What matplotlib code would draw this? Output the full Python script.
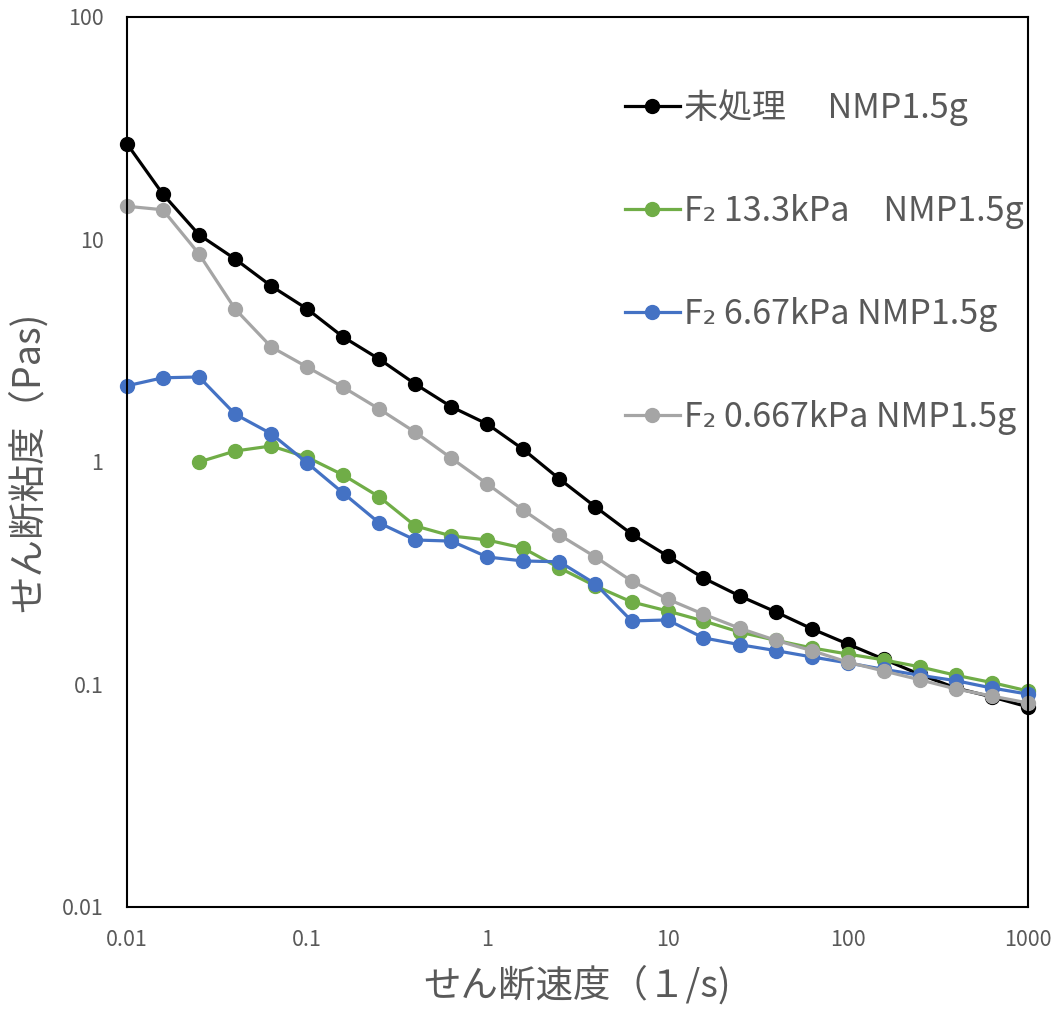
import matplotlib
matplotlib.use('Agg')
import matplotlib.pyplot as plt

plt.rcParams['font.family'] = ['Noto Sans CJK JP', 'DejaVu Sans']

# shear rate (1/s)
shear_rate = [0.01, 0.0158, 0.0251, 0.0398, 0.0631, 0.1, 0.158, 0.251, 0.398, 0.631,
              1, 1.58, 2.51, 3.98, 6.31, 10, 15.8, 25.1, 39.8, 63.1,
              100, 158, 251, 398, 631, 1000]

# viscosity (Pas)
untreated = [26.9, 16.0, 10.5, 8.17, 6.18, 4.87, 3.65, 2.90, 2.24, 1.77,
             1.48, 1.14, 0.839, 0.628, 0.475, 0.378, 0.301, 0.250, 0.212, 0.178,
             0.152, 0.130, 0.111, 0.0964, 0.0879, 0.0793]
f2_13_3 = [1.0, 1.12, 1.18, 1.05, 0.875, 0.697, 0.516, 0.465, 0.446, 0.410,
           0.334, 0.277, 0.235, 0.214, 0.193, 0.172, 0.158, 0.146, 0.137, 0.129,
           0.120, 0.110, 0.102, 0.0935]
f2_6_67 = [2.20, 2.39, 2.41, 1.64, 1.34, 0.99, 0.726, 0.532, 0.446, 0.441,
           0.374, 0.359, 0.356, 0.283, 0.193, 0.195, 0.162, 0.151, 0.142, 0.133,
           0.125, 0.117, 0.110, 0.104, 0.0964, 0.0905]
f2_0_667 = [14.1, 13.6, 8.61, 4.87, 3.29, 2.67, 2.17, 1.73, 1.36, 1.04,
            0.796, 0.608, 0.470, 0.374, 0.292, 0.242, 0.207, 0.179, 0.158, 0.142,
            0.126, 0.115, 0.105, 0.0955, 0.0887, 0.0826]

labels = ['未処理　 NMP1.5g', 'F₂ 13.3kPa　NMP1.5g', 'F₂ 6.67kPa NMP1.5g', 'F₂ 0.667kPa NMP1.5g']
colors = ['#000000', '#70AD47', '#4472C4', '#A5A5A5']
text_gray = '#595959'

fig = plt.figure(figsize=(10.54, 10.10), dpi=100)
ax = fig.add_axes([0.1205, 0.1020, 0.8548, 0.8812])

series = [(shear_rate, untreated), (shear_rate[2:], f2_13_3),
          (shear_rate, f2_6_67), (shear_rate, f2_0_667)]
for (x, y), lab, c in zip(series, labels, colors):
	ax.plot(x, y, color=c, lw=2.3, marker='o', ms=10, label=lab, clip_on=False)

ax.set_xscale('log')
ax.set_yscale('log')
ax.set_xlim(0.01, 1000)
ax.set_ylim(0.01, 100)

ax.set_xticks([0.01, 0.1, 1, 10, 100, 1000])
ax.set_xticklabels(['0.01', '0.1', '1', '10', '100', '1000'])
ax.set_yticks([0.01, 0.1, 1, 10, 100])
ax.set_yticklabels(['0.01', '0.1', '1', '10', '100'])
ax.minorticks_off()
ax.tick_params(length=0, labelsize=15.5, colors=text_gray)
ax.tick_params(axis='x', pad=16)
ax.tick_params(axis='y', pad=17)

for s in ax.spines.values():
	s.set_linewidth(1.5)
	s.set_color('black')

ax.set_xlabel('せん断速度（１/s)', fontsize=27, color=text_gray, labelpad=11)
ax.set_ylabel('せん断粘度（Pas)', fontsize=27, color=text_gray, labelpad=10)

leg = ax.legend(loc='upper left', bbox_to_anchor=(0.553, 0.919), frameon=False,
                fontsize=24.5, labelspacing=2.0, handlelength=1.6, handletextpad=0.12,
                borderpad=0, borderaxespad=0)
for t in leg.get_texts():
	t.set_color(text_gray)

plt.savefig('out.png')
